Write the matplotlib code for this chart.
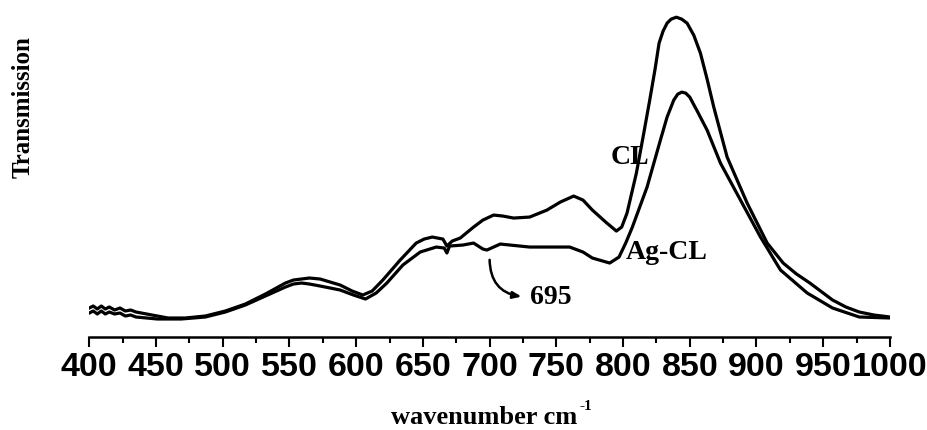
import matplotlib.pyplot as plt
from matplotlib.ticker import MultipleLocator

# wavenumber (cm-1) and transmission (arbitrary units)
wn_cl = [400, 403, 406, 409, 412, 415, 419, 423, 427, 431, 435, 447, 459, 472, 487,
         502, 517, 532, 547, 553, 559, 565, 573, 588, 597, 605, 612, 620, 633, 645,
         651, 657, 665, 668, 672, 678, 688, 695, 703, 710, 718, 730, 743, 753, 763,
         770, 777, 787, 795, 799, 803, 810, 815, 820, 824, 827, 830, 833, 836, 840,
         844, 848, 853, 858, 863, 868, 878, 893, 908, 920, 930, 940, 950, 957, 967,
         977, 988, 1000]
tr_cl = [29, 31, 28, 31, 28, 30, 27, 29, 26, 27, 25, 22, 19, 19, 21,
         26, 33, 43, 54, 57, 58, 59, 58, 52, 46, 42, 46, 57, 77, 94,
         98, 100, 98, 91, 96, 99, 110, 117, 122, 121, 119, 120, 127, 135, 141,
         137, 127, 115, 106, 110, 124, 164, 200, 237, 268, 294, 306, 314, 318, 320,
         318, 314, 302, 284, 258, 230, 180, 134, 94, 74, 63, 54, 44, 37, 30,
         25, 22, 20]

wn_ag = [400, 403, 406, 409, 412, 415, 419, 423, 427, 431, 435, 451, 469, 487, 502,
         517, 532, 547, 553, 559, 565, 573, 588, 598, 607, 615, 623, 635, 648, 660,
         666, 668, 670, 680, 688, 695, 698, 708, 730, 760, 770, 777, 790, 797, 802,
         807, 818, 828, 833, 838, 841, 844, 847, 850, 856, 863, 873, 888, 903, 918,
         938, 957, 977, 1000]
tr_ag = [24, 26, 23, 26, 23, 25, 23, 24, 21, 22, 20, 18, 18, 20, 25,
         32, 41, 50, 53, 54, 53, 51, 47, 42, 38, 44, 54, 72, 85, 90,
         89, 84, 91, 92, 94, 88, 87, 93, 90, 90, 85, 79, 74, 80, 94,
         110, 150, 197, 220, 237, 243, 245, 244, 240, 225, 207, 174, 137, 100, 67,
         44, 29, 20, 19]

x_ticks = list(range(400, 1001, 50))

serif = 'Liberation Serif'
sans = 'Liberation Sans'

fig = plt.figure(figsize=(9.27, 4.30), dpi=100)
ax = fig.add_axes([0.0963, 0.2163, 0.8637, 0.767])

ax.plot(wn_cl, tr_cl, color='black', linewidth=2.3, solid_joinstyle='round')
ax.plot(wn_ag, tr_ag, color='black', linewidth=2.3, solid_joinstyle='round')

ax.set_xlim(400, 1000)
ax.set_ylim(0, 330)
ax.set_xticks(x_ticks)
ax.set_xticklabels([str(t) for t in x_ticks], fontfamily=sans, fontweight='bold', fontsize=24.5)
ax.xaxis.set_minor_locator(MultipleLocator(25))
ax.tick_params(axis='x', which='major', length=7.5, width=1.5, pad=3)
ax.tick_params(axis='x', which='minor', length=4.5, width=1.5)
ax.set_yticks([])
for s in ['left', 'top', 'right']:
    ax.spines[s].set_visible(False)
ax.spines['bottom'].set_linewidth(1.8)

# etykiety krzywych
ax.text(805, 180, 'CL', fontfamily=serif, fontweight='bold', fontsize=20,
        ha='center', va='center')
ax.text(833, 85, 'Ag-CL', fontfamily=serif, fontweight='bold', fontsize=20,
        ha='center', va='center')
ax.annotate('', xy=(726, 40), xytext=(700, 80),
            arrowprops=dict(arrowstyle='-|>,head_length=0.5,head_width=0.2',
                            connectionstyle='arc3,rad=0.45', color='black', lw=1.8))
ax.text(730, 40, '695', fontfamily=serif, fontweight='bold', fontsize=20,
        ha='left', va='center')

fig.text(577 / 927, (430 - 424) / 430, 'wavenumber cm', fontfamily=serif,
         fontweight='bold', fontsize=19, ha='right', va='baseline')
fig.text(580 / 927, (430 - 410) / 430, '-1', fontfamily=serif,
         fontweight='bold', fontsize=11, ha='left', va='baseline')
fig.text(23 / 927, (430 - 107) / 430, 'Transmission', fontfamily=serif,
         fontweight='bold', fontsize=18, rotation=90, ha='center', va='center')

fig.savefig('out.png', dpi=100)
